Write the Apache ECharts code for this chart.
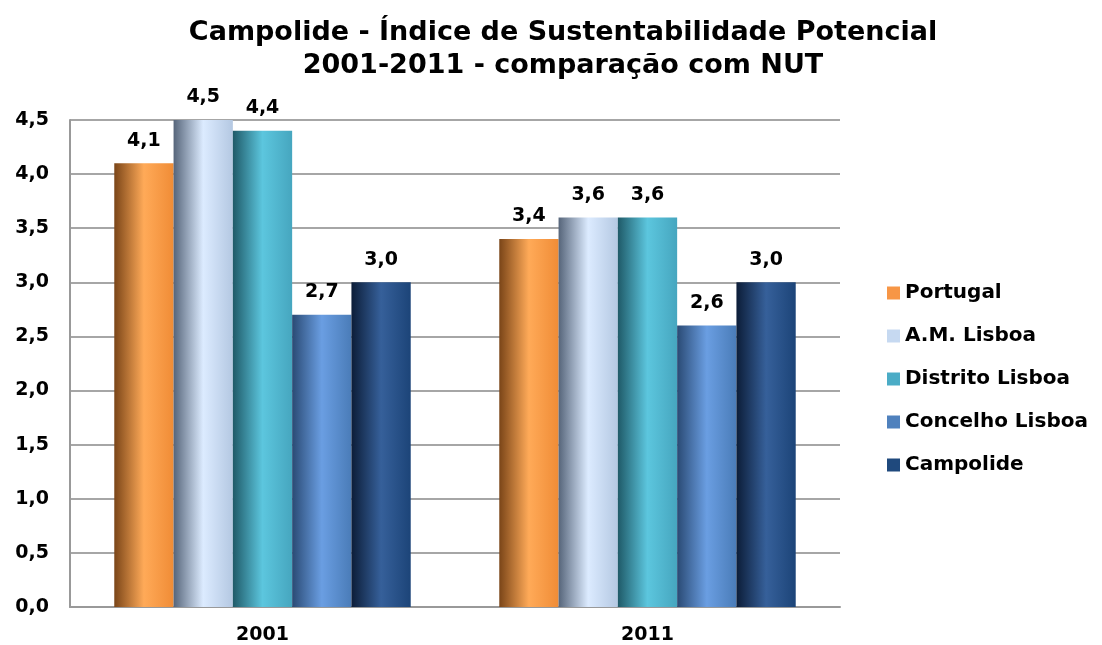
<!DOCTYPE html>
<html>
<head>
<meta charset="utf-8">
<script src="https://cdn.jsdelivr.net/npm/echarts@6/dist/echarts.min.js"></script>
<style>
  html, body { margin: 0; padding: 0; background: #fff; }
  #chart { width: 1102px; height: 645px; }
</style>
</head>
<body>
<div id="chart"></div>
<script>
// dados
var anos = ['2001', '2011'];
var portugal = [4.1, 3.4];
var amLisboa = [4.5, 3.6];
var distritoLisboa = [4.4, 3.6];
var concelhoLisboa = [2.7, 2.6];
var campolide = [3.0, 3.0];

var fonte = 'DejaVu Sans';

// gradiente horizontal: esquerda escura, meio claro, direita
function grad(a, b, c) {
  return new echarts.graphic.LinearGradient(0, 0, 1, 0, [
    { offset: 0, color: a },
    { offset: 0.5, color: b },
    { offset: 1, color: c }
  ]);
}

function virgula(v) { return v.toFixed(1).replace('.', ','); }

function serie(nome, dados, cores) {
  return {
    name: nome,
    type: 'bar',
    data: dados,
    barGap: '0%',
    barCategoryGap: '23%',
    itemStyle: { color: grad(cores[0], cores[1], cores[2]) },
    label: {
      show: true,
      position: 'top',
      distance: 13,
      color: '#000',
      fontWeight: 'bold',
      fontSize: 19,
      fontFamily: fonte,
      formatter: function (p) { return virgula(p.value); }
    }
  };
}

var legendaCores = {
  'Portugal': '#f79646',
  'A.M. Lisboa': '#c6d9f1',
  'Distrito Lisboa': '#4bacc6',
  'Concelho Lisboa': '#4f81bd',
  'Campolide': '#1f497d'
};

var chart = echarts.init(document.getElementById('chart'));
chart.setOption({
  animation: false,
  title: {
    text: 'Campolide - Índice de Sustentabilidade Potencial\n2001-2011 - comparação com NUT',
    left: 558,
    textAlign: 'center',
    top: 11,
    textStyle: {
      fontFamily: fonte,
      fontWeight: 'bold',
      fontSize: 27,
      lineHeight: 33,
      color: '#000'
    }
  },
  legend: {
    orient: 'vertical',
    left: 887,
    top: 283,
    padding: 0,
    itemWidth: 13,
    itemHeight: 13,
    itemGap: 23,
    icon: 'rect',
    data: Object.keys(legendaCores).map(function (k) {
      return { name: k, itemStyle: { color: legendaCores[k] } };
    }),
    textStyle: {
      fontFamily: fonte,
      fontWeight: 'bold',
      fontSize: 20,
      lineHeight: 20,
      color: '#000'
    }
  },
  grid: { left: 70, right: 262, top: 120, bottom: 38, containLabel: false },
  xAxis: {
    type: 'category',
    data: anos,
    axisTick: { show: false },
    axisLine: { lineStyle: { color: '#999', width: 2 } },
    axisLabel: {
      margin: 19,
      fontFamily: fonte,
      fontWeight: 'bold',
      fontSize: 19,
      color: '#000'
    }
  },
  yAxis: {
    type: 'value',
    min: 0,
    max: 4.5,
    interval: 0.5,
    axisLine: { show: true, lineStyle: { color: '#999', width: 2 } },
    axisTick: { show: false },
    splitLine: { lineStyle: { color: '#a6a6a6', width: 2 } },
    axisLabel: {
      margin: 21,
      fontFamily: fonte,
      fontWeight: 'bold',
      fontSize: 19,
      color: '#000',
      formatter: virgula
    }
  },
  series: [
    serie('Portugal', portugal, ['#7a4518', '#ffaa58', '#f08c36']),
    serie('A.M. Lisboa', amLisboa, ['#56657a', '#dcebff', '#b4c8e2']),
    serie('Distrito Lisboa', distritoLisboa, ['#1f5a68', '#5cc6de', '#46a6bf']),
    serie('Concelho Lisboa', concelhoLisboa, ['#2a4a74', '#6a9ee2', '#4a7cb8']),
    serie('Campolide', campolide, ['#0c1d38', '#36609a', '#1c4478'])
  ]
});
</script>
</body>
</html>
